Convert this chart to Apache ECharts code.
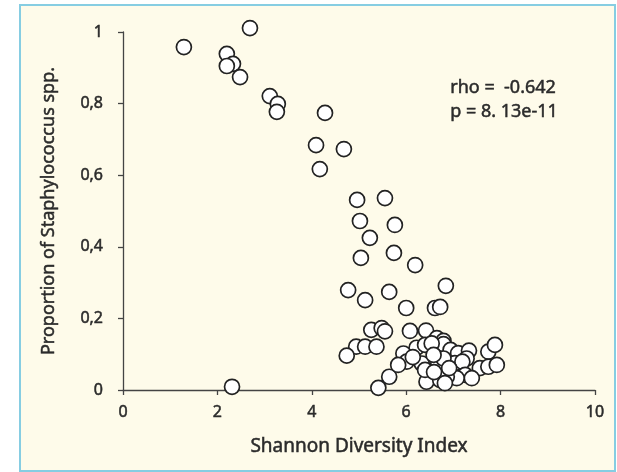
<!DOCTYPE html>
<html>
<head>
<meta charset="utf-8">
<script src="https://cdn.jsdelivr.net/npm/echarts@6/dist/echarts.min.js"></script>
<style>
html,body{margin:0;padding:0;background:#ffffff;}
#chart{width:617px;height:472px;}
</style>
</head>
<body>
<div id="chart"></div>
<script>
// Shannon Diversity Index (x)
var shannon = [
  1.29, 2.69, 2.20, 2.33, 2.20, 2.48, 3.11, 3.28, 3.26, 4.28,
  4.09, 4.68, 4.17, 4.96, 5.55, 5.02, 5.76, 5.23, 5.04, 5.74,
  6.19, 4.77, 5.13, 5.64, 6.84, 6.00, 6.61, 6.72,
  5.26, 5.48, 5.55, 4.94, 5.13, 5.37, 4.74, 5.64, 5.41, 2.31,
  6.08, 6.42, 6.65, 6.79, 6.79, 6.22, 6.40, 6.54, 5.94, 6.01,
  5.83, 6.33, 6.68, 6.43, 6.72, 6.94, 7.10, 7.33, 7.74, 7.88,
  7.28, 7.03, 7.19, 7.56, 7.74, 7.92, 7.25, 7.39, 7.07, 6.86,
  6.40, 6.79, 6.14, 6.58, 6.91, 6.59, 6.82
];
// Proportion of Staphylococcus spp. (y)
var staph = [
  0.958, 1.011, 0.939, 0.911, 0.905, 0.874, 0.821, 0.799, 0.777, 0.774,
  0.684, 0.673, 0.617, 0.531, 0.536, 0.472, 0.461, 0.425, 0.369, 0.383,
  0.349, 0.279, 0.251, 0.274, 0.291, 0.229, 0.229, 0.232,
  0.168, 0.173, 0.164, 0.121, 0.121, 0.121, 0.096, 0.037, 0.006, 0.009,
  0.165, 0.166, 0.145, 0.137, 0.128, 0.118, 0.126, 0.130, 0.102, 0.079,
  0.070, 0.074, 0.074, 0.023, 0.028, 0.112, 0.103, 0.110, 0.107, 0.126,
  0.088, 0.075, 0.079, 0.061, 0.065, 0.070, 0.042, 0.033, 0.033, 0.037,
  0.056, 0.088, 0.092, 0.098, 0.061, 0.050, 0.019
];
var xTicks = [0, 2, 4, 6, 8, 10];
var yTicks = [0, 0.2, 0.4, 0.6, 0.8, 1];
var statText = ['rho =  -0.642', 'p = 8. 13e-11'];
var xName = 'Shannon Diversity Index';
var yName = 'Proportion of Staphylococcus spp.';

var points = shannon.map(function (x, i) { return [x, staph[i]]; });
var FONT = '"Noto Sans", "Open Sans", sans-serif';
var TXT = '#2b2b2b';
var THICK = 0.5;

var chart = echarts.init(document.getElementById('chart'), null, {renderer: 'canvas'});
chart.setOption({
  backgroundColor: '#ffffff',
  animation: false,
  graphic: [
    {type: 'rect', z: -10, shape: {x: 20, y: 5, width: 595, height: 466},
     style: {fill: '#fefbea', stroke: '#86cde2', lineWidth: 2}},
    {type: 'text', left: 450, top: 79, z: 10,
     style: {text: statText[0], font: '18px ' + FONT, fill: TXT, stroke: TXT, lineWidth: THICK}},
    {type: 'text', left: 450, top: 103, z: 10,
     style: {text: statText[1], font: '18px ' + FONT, fill: TXT, stroke: TXT, lineWidth: THICK}}
  ],
  grid: {left: 123, right: 22, top: 32, bottom: 82},
  xAxis: {
    type: 'value', min: xTicks[0], max: xTicks[xTicks.length - 1], interval: 2,
    name: xName, nameLocation: 'middle', nameGap: 47,
    nameTextStyle: {fontFamily: FONT, fontSize: 19, color: TXT, textBorderColor: TXT, textBorderWidth: THICK},
    splitLine: {show: false},
    axisLine: {show: true, lineStyle: {color: '#444', width: 1.3}},
    axisTick: {show: true, length: 5, lineStyle: {color: '#444', width: 1.3}},
    axisLabel: {fontFamily: FONT, fontSize: 16, color: TXT, margin: 14, textBorderColor: TXT, textBorderWidth: THICK}
  },
  yAxis: {
    type: 'value', min: yTicks[0], max: yTicks[yTicks.length - 1], interval: 0.2,
    name: yName, nameLocation: 'middle', nameGap: 65, nameRotate: 90,
    nameTextStyle: {fontFamily: FONT, fontSize: 18, color: TXT, textBorderColor: TXT, textBorderWidth: THICK},
    splitLine: {show: false},
    axisLine: {show: true, lineStyle: {color: '#444', width: 1.3}},
    axisTick: {show: true, length: 5, lineStyle: {color: '#444', width: 1.3}},
    axisLabel: {fontFamily: FONT, fontSize: 16, color: TXT, margin: 20, textBorderColor: TXT, textBorderWidth: THICK,
      formatter: function (v) { return String(+v.toFixed(1)).replace('.', ','); }}
  },
  series: [{
    type: 'scatter',
    data: points,
    clip: false,
    symbol: 'circle',
    symbolSize: 15,
    itemStyle: {color: '#ffffff', borderColor: '#222', borderWidth: 1.7, opacity: 1}
  }]
});
</script>
</body>
</html>
